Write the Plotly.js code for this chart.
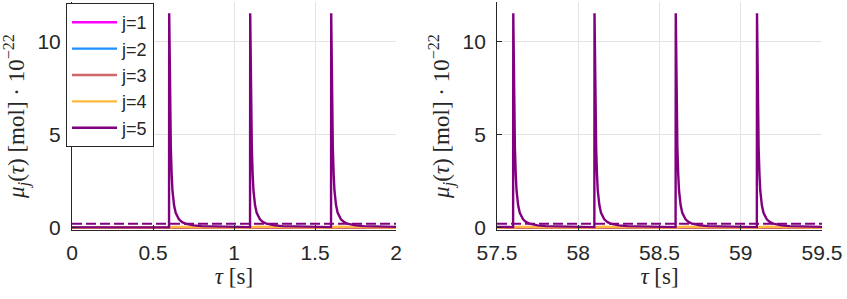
<!DOCTYPE html>
<html>
<head>
<meta charset="utf-8">
<script src="https://cdn.plot.ly/plotly-3.0.1.min.js"></script>
<style>html,body{margin:0;padding:0;background:#fff;}#chart{width:847px;height:299px;}</style>
</head>
<body>
<div id="chart"></div>
<script>
// ---------- data ----------
const seriesNames = ["j=1", "j=2", "j=3", "j=4", "j=5"];
const seriesColors = ["#ff00ff", "#1e8fff", "#d0666a", "#ffb83d", "#800080"];

// left panel: tau in [0, 2] s
const tLflat = [0, 2];
const yLflat = [0, 0];

const tL4 = [0, 0.6, 0.61, 0.63, 0.66, 0.7, 0.75, 0.8, 0.9, 1.0,
             1.1, 1.11, 1.13, 1.16, 1.2, 1.25, 1.3, 1.4, 1.5,
             1.6, 1.61, 1.63, 1.66, 1.7, 1.75, 1.8, 1.9, 2.0];
const yL4 = [0, 0, 0.03, 0.05, 0.06, 0.05, 0.04, 0.03, 0.015, 0.008,
             0.005, 0.03, 0.05, 0.06, 0.05, 0.04, 0.03, 0.015, 0.008,
             0.005, 0.03, 0.05, 0.06, 0.05, 0.04, 0.03, 0.015, 0.008];

const tL5 = [0, 0.599,
  0.6, 0.605, 0.61, 0.615, 0.62, 0.63, 0.64, 0.66, 0.68, 0.7, 0.75, 0.8, 0.9, 1.0, 1.099,
  1.1, 1.105, 1.11, 1.115, 1.12, 1.13, 1.14, 1.16, 1.18, 1.2, 1.25, 1.3, 1.4, 1.5, 1.599,
  1.6, 1.605, 1.61, 1.615, 1.62, 1.63, 1.64, 1.66, 1.68, 1.7, 1.75, 1.8, 1.9, 2.0];
const yL5 = [0.02, 0.02,
  11.5, 6.8, 4.3, 2.9, 2.0, 1.2, 0.8, 0.45, 0.3, 0.22, 0.13, 0.09, 0.06, 0.045, 0.035,
  11.5, 6.8, 4.3, 2.9, 2.0, 1.2, 0.8, 0.45, 0.3, 0.22, 0.13, 0.09, 0.06, 0.045, 0.035,
  11.5, 6.8, 4.3, 2.9, 2.0, 1.2, 0.8, 0.45, 0.3, 0.22, 0.13, 0.09, 0.06, 0.045];

const tLmean = [0, 2];
const yL5mean = [0.21, 0.21];

// right panel: tau in [57.5, 59.5] s
const tRflat = [57.5, 59.5];
const yRflat = [0, 0];

const tR4 = [57.5, 57.6, 57.61, 57.63, 57.66, 57.7, 57.75, 57.8, 57.9, 58.0,
             58.1, 58.11, 58.13, 58.16, 58.2, 58.25, 58.3, 58.4, 58.5,
             58.6, 58.61, 58.63, 58.66, 58.7, 58.75, 58.8, 58.9, 59.0,
             59.1, 59.11, 59.13, 59.16, 59.2, 59.25, 59.3, 59.4, 59.5];
const yR4 = [0.008, 0.005, 0.03, 0.05, 0.06, 0.05, 0.04, 0.03, 0.015, 0.008,
             0.005, 0.03, 0.05, 0.06, 0.05, 0.04, 0.03, 0.015, 0.008,
             0.005, 0.03, 0.05, 0.06, 0.05, 0.04, 0.03, 0.015, 0.008,
             0.005, 0.03, 0.05, 0.06, 0.05, 0.04, 0.03, 0.015, 0.008];

const tR5 = [57.5, 57.599,
  57.6, 57.605, 57.61, 57.615, 57.62, 57.63, 57.64, 57.66, 57.68, 57.7, 57.75, 57.8, 57.9, 58.0, 58.099,
  58.1, 58.105, 58.11, 58.115, 58.12, 58.13, 58.14, 58.16, 58.18, 58.2, 58.25, 58.3, 58.4, 58.5, 58.599,
  58.6, 58.605, 58.61, 58.615, 58.62, 58.63, 58.64, 58.66, 58.68, 58.7, 58.75, 58.8, 58.9, 59.0, 59.099,
  59.1, 59.105, 59.11, 59.115, 59.12, 59.13, 59.14, 59.16, 59.18, 59.2, 59.25, 59.3, 59.4, 59.5];
const yR5 = [0.045, 0.035,
  11.5, 6.8, 4.3, 2.9, 2.0, 1.2, 0.8, 0.45, 0.3, 0.22, 0.13, 0.09, 0.06, 0.045, 0.035,
  11.5, 6.8, 4.3, 2.9, 2.0, 1.2, 0.8, 0.45, 0.3, 0.22, 0.13, 0.09, 0.06, 0.045, 0.035,
  11.5, 6.8, 4.3, 2.9, 2.0, 1.2, 0.8, 0.45, 0.3, 0.22, 0.13, 0.09, 0.06, 0.045, 0.035,
  11.5, 6.8, 4.3, 2.9, 2.0, 1.2, 0.8, 0.45, 0.3, 0.22, 0.13, 0.09, 0.06, 0.045];

const tRmean = [57.5, 59.5];
const yR5mean = [0.21, 0.21];

const xTicksL = [0, 0.5, 1, 1.5, 2];
const xTickTextL = ["0", "0.5", "1", "1.5", "2"];
const xTicksR = [57.5, 58, 58.5, 59, 59.5];
const xTickTextR = ["57.5", "58", "58.5", "59", "59.5"];
const yTicks = [0, 5, 10];
const yTickText = ["0", "5", "10"];

// ---------- traces ----------
const leftX = [tLflat, tLflat, tLflat, tL4, tL5];
const leftY = [yLflat, yLflat, yLflat, yL4, yL5];
const rightX = [tRflat, tRflat, tRflat, tR4, tR5];
const rightY = [yRflat, yRflat, yRflat, yR4, yR5];

const traces = [];
for (let i = 0; i < 5; i++) {
  traces.push({x: leftX[i], y: leftY[i], type: "scatter", mode: "lines", name: seriesNames[i],
    line: {color: seriesColors[i], width: 2.4}, xaxis: "x", yaxis: "y", showlegend: true});
}
for (let i = 0; i < 5; i++) {
  traces.push({x: rightX[i], y: rightY[i], type: "scatter", mode: "lines", name: seriesNames[i],
    line: {color: seriesColors[i], width: 2.4}, xaxis: "x2", yaxis: "y2", showlegend: false});
}
traces.push({x: tLmean, y: yL5mean, type: "scatter", mode: "lines", name: "j=5 mean",
  line: {color: seriesColors[4], width: 2, dash: "10px,4px"}, xaxis: "x", yaxis: "y", showlegend: false});
traces.push({x: tRmean, y: yR5mean, type: "scatter", mode: "lines", name: "j=5 mean",
  line: {color: seriesColors[4], width: 2, dash: "10px,4px"}, xaxis: "x2", yaxis: "y2", showlegend: false});

// ---------- layout ----------
const axisCol = "#262626";
const gridCol = "#e3e3e3";
const tickFont = {family: "Liberation Sans, Arial, sans-serif", size: 21, color: axisCol};
const titleFont = {family: "Liberation Serif, DejaVu Serif, serif", size: 23, color: axisCol};
const yTitle = "<i>μ<sub>j</sub></i>(<i>τ</i>) [mol] · 10<sup>−22</sup>";
const xTitle = "<i>τ</i> [s]";

function xAx(domain, range, tv, tt, anchor) {
  return {domain: domain, range: range, tickvals: tv, ticktext: tt, anchor: anchor,
    showgrid: true, gridcolor: gridCol, gridwidth: 1, zeroline: false,
    showline: true, linecolor: axisCol, linewidth: 1, mirror: false,
    ticks: "inside", ticklen: 5, tickcolor: axisCol, tickfont: tickFont,
    ticklabelstandoff: 4,
    title: {text: xTitle, font: titleFont, standoff: 4}};
}
function yAx(range, anchor) {
  return {domain: [0, 1], range: range, tickvals: yTicks, ticktext: yTickText, anchor: anchor,
    showgrid: true, gridcolor: gridCol, gridwidth: 1, zeroline: false,
    showline: true, linecolor: axisCol, linewidth: 1, mirror: false,
    ticks: "inside", ticklen: 5, tickcolor: axisCol, tickfont: tickFont,
    ticklabelstandoff: 6,
    title: {text: yTitle, font: titleFont, standoff: 6}};
}

const layout = {
  width: 847, height: 299,
  margin: {l: 72, r: 25, t: 2, b: 69, pad: 0},
  paper_bgcolor: "#ffffff", plot_bgcolor: "#ffffff",
  showlegend: true,
  legend: {x: -0.008, y: 0.9956, xanchor: "left", yanchor: "top",
    bgcolor: "#ffffff", bordercolor: axisCol, borderwidth: 1,
    font: {family: "Liberation Sans, Arial, sans-serif", size: 18, color: axisCol},
    itemwidth: 45, tracegroupgap: 0},
  xaxis: xAx([0, 0.432], [0, 2], xTicksL, xTickTextL, "y"),
  yaxis: yAx([-0.12, 12.1], "x"),
  xaxis2: xAx([0.5667, 1.0], [57.5, 59.5], xTicksR, xTickTextR, "y2"),
  yaxis2: yAx([-0.12, 12.1], "x2")
};

Plotly.newPlot("chart", traces, layout, {staticPlot: true, displayModeBar: false});
</script>
</body>
</html>
